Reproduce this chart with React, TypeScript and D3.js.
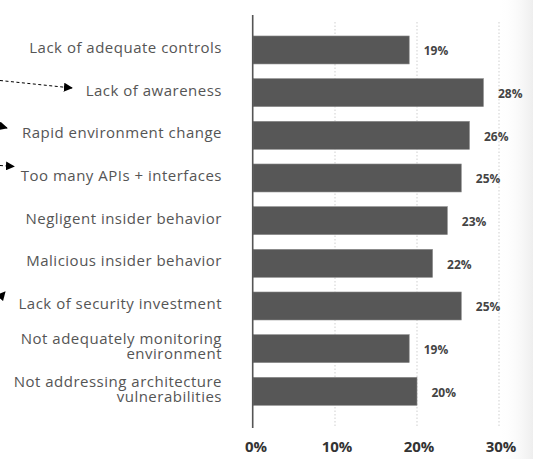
import React from "react";
import * as d3 from "d3";

const categories: string[][] = [
  ["Lack of adequate controls"],
  ["Lack of awareness"],
  ["Rapid environment change"],
  ["Too many APIs + interfaces"],
  ["Negligent insider behavior"],
  ["Malicious insider behavior"],
  ["Lack of security investment"],
  ["Not adequately monitoring", "environment"],
  ["Not addressing architecture", "vulnerabilities"],
];
const values: number[] = [19.05, 28.1, 26.4, 25.4, 23.7, 21.9, 25.4, 19.05, 20];
const valueLabels: string[] = ["19%", "28%", "26%", "25%", "23%", "22%", "25%", "19%", "20%"];
const ticks: number[] = [0, 10, 20, 30];
const tickLabels: string[] = ["0%", "10%", "20%", "30%"];

const W = 533;
const H = 459;

export default function App() {
  const x = d3.scaleLinear().domain([0, 30]).range([253, 499]);
  const y = d3
    .scaleBand<number>()
    .domain(d3.range(categories.length))
    .range([21.3, 420])
    .paddingInner(0.344)
    .paddingOuter(0.344);
  const bw = y.bandwidth();
  const labelFont = "'Open Sans', sans-serif";

  return (
    <svg
      width={W}
      height={H}
      style={{ position: "absolute", left: 0, top: 0, background: "#fff" }}
    >
      <defs>
        <linearGradient id="fade" x1="0" x2="1" y1="0" y2="0">
          <stop offset="0" stopColor="#ffffff" stopOpacity={0} />
          <stop offset="1" stopColor="#eeeeee" stopOpacity={1} />
        </linearGradient>
        <marker
          id="ah"
          viewBox="0 0 10 10"
          refX="9"
          refY="5"
          markerWidth="9"
          markerHeight="9"
          markerUnits="userSpaceOnUse"
          orient="auto"
        >
          <path d="M0,0 L10,5 L0,10 Z" fill="#000" />
        </marker>
      </defs>
      <rect x={498} y={0} width={35} height={H} fill="url(#fade)" />

      {/* gridlines */}
      {ticks.slice(1).map((t) => (
        <line
          key={"g" + t}
          x1={x(t)}
          x2={x(t)}
          y1={22}
          y2={427}
          stroke="#cfcfcf"
          strokeWidth={1}
          strokeDasharray="1.5,2"
        />
      ))}

      {/* bars */}
      {values.map((v, i) => (
        <rect
          key={"b" + i}
          x={x(0)}
          y={y(i)!}
          width={x(v) - x(0)}
          height={bw}
          fill="#575757"
          stroke="#8a8a8a"
          strokeWidth={0.6}
        />
      ))}

      {/* axis line */}
      <line x1={252.7} x2={252.7} y1={15} y2={428} stroke="#555" strokeWidth={1.6} />

      {/* value labels */}
      {values.map((v, i) => (
        <text
          key={"v" + i}
          x={x(v) + 14.5}
          y={y(i)! + bw / 2 + 2}
          dominantBaseline="middle"
          fontFamily={labelFont}
          fontWeight={700}
          fontSize={12}
          fill="#444"
        >
          {valueLabels[i]}
        </text>
      ))}

      {/* category labels */}
      {categories.map((lines, i) => {
        const cy = y(i)! + bw / 2;
        const lh = 14.5;
        const start = cy - ((lines.length - 1) * lh) / 2 - 1;
        return (
          <text
            key={"c" + i}
            textAnchor="end"
            fontFamily={labelFont}
            fontSize={15}
            letterSpacing={0.5}
            fill="#555"
          >
            {lines.map((l, j) => (
              <tspan key={j} x={222} y={start + j * lh} dominantBaseline="middle">
                {l}
              </tspan>
            ))}
          </text>
        );
      })}

      {/* x tick labels */}
      {ticks.map((t, i) => (
        <text
          key={"t" + t}
          x={x(t) + (i === 0 ? 3 : 2)}
          y={448}
          textAnchor="middle"
          dominantBaseline="middle"
          fontFamily={labelFont}
          fontWeight={700}
          fontSize={15}
          fill="#333"
        >
          {tickLabels[i]}
        </text>
      ))}

      {/* annotation arrows */}
      <line x1={0} y1={80.5} x2={72} y2={88} stroke="#000" strokeWidth={1} strokeDasharray="3,2.5" markerEnd="url(#ah)" />
      <line x1={-4} y1={125} x2={7} y2={128} stroke="#000" strokeWidth={1} markerEnd="url(#ah)" />
      <line x1={0} y1={165.5} x2={14} y2={166.5} stroke="#000" strokeWidth={1} strokeDasharray="3,2.5" markerEnd="url(#ah)" />
      <line x1={-2} y1={300} x2={5} y2={292} stroke="#000" strokeWidth={1} markerEnd="url(#ah)" />
    </svg>
  );
}
